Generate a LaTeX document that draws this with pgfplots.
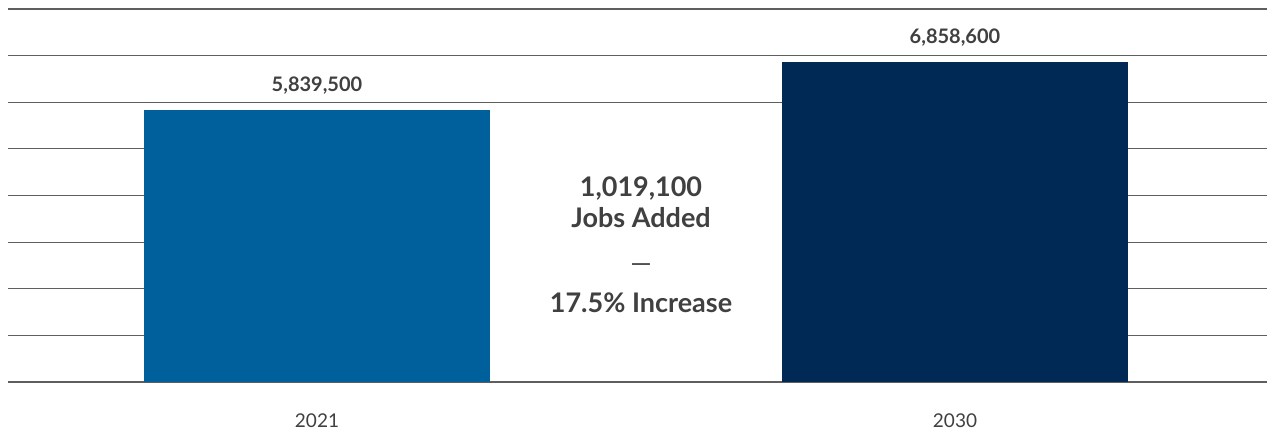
\documentclass[border=0pt]{standalone}
\usepackage{fontspec}
\setmainfont{Lato}
\usepackage{pgfplots}
\pgfplotsset{compat=1.18}
\definecolor{bar21}{HTML}{00609C}
\definecolor{bar30}{HTML}{002A55}
\definecolor{txt}{HTML}{404040}
\definecolor{gridc}{HTML}{5E5E5E}

\begin{document}
\begin{tikzpicture}
% picture frame: 1267 x 430 (1px = 1pt), axis box starts 8px in, 48px above bottom
\useasboundingbox (-8pt,-48pt) rectangle (1259pt,382pt);
\begin{axis}[
  at={(0,0)}, anchor=south west,
  scale only axis,
  width=1259pt, height=373pt,
  xmin=8, xmax=1267,
  ymin=0, ymax=8000000,
  ytick={0,1000000,2000000,3000000,4000000,5000000,6000000,7000000,8000000},
  scaled y ticks=false,
  yticklabel=\empty,
  ymajorgrids,
  grid style={gridc, line width=1.2pt},
  axis line style={draw=none},
  major tick length=0pt,
  xtick={317,955},
  xticklabels={2021,2030},
  xticklabel style={font=\fontsize{19}{21}\selectfont, text=txt, inner sep=0pt, yshift=-32pt},
  ybar, bar width=346, bar shift=0pt,
  point meta=explicit symbolic,
  nodes near coords,
  every node near coord/.append style={font=\fontsize{20}{22}\selectfont\bfseries, text=txt, yshift=12pt},
  clip=false,
]
\addplot[fill=bar21, draw=none] coordinates {(317,5839500) [5,839,500]};
\addplot[fill=bar30, draw=none] coordinates {(955,6858600) [6,858,600]};

% white panel between the bars (hides the inner grid lines)
\fill[white] (axis cs:490,50000) rectangle (axis cs:782,5900000);

\begin{scope}[every node/.style={font=\fontsize{27}{30}\selectfont\bfseries, text=txt, anchor=base, inner sep=0pt}]
\node at (axis cs:641,3968000) {1,019,100};
\node at (axis cs:641,3303000) {Jobs Added};
\node[font=\fontsize{27}{30}\selectfont] at (axis cs:641,2340000) {—};
\node at (axis cs:641,1501000) {17.5\% Increase};
\end{scope}
\end{axis}
\end{tikzpicture}
\end{document}
